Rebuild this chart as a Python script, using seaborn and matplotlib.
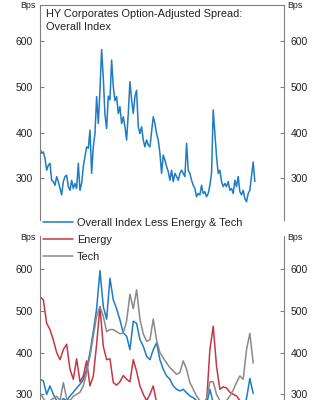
import numpy as np
import pandas as pd
import matplotlib
matplotlib.use("Agg")
import matplotlib.pyplot as plt
import seaborn as sns

# ---------------- data ----------------
overall = [366, 355, 358, 344, 318, 329, 333, 296, 293, 285, 304, 293, 278, 264, 293, 304,
           307, 282, 274, 296, 278, 289, 278, 333, 274, 289, 326, 347, 369, 366, 406, 311,
           369, 398, 479, 420, 493, 582, 520, 440, 409, 480, 472, 559, 501, 470, 479, 442,
           457, 420, 435, 413, 384, 442, 512, 472, 442, 479, 493, 413, 398, 413, 384, 369,
           384, 373, 369, 402, 435, 420, 398, 384, 355, 311, 351, 340, 326, 315, 296, 318,
           293, 311, 304, 296, 311, 318, 311, 304, 377, 318, 311, 296, 285, 278, 260, 267,
           264, 285, 267, 271, 260, 267, 285, 311, 450, 398, 347, 311, 318, 293, 282, 289,
           282, 293, 274, 278, 267, 296, 282, 304, 271, 264, 274, 256, 249, 267, 274, 304,
           336, 293]

less_energy_tech = [336, 332, 300, 320, 300, 285, 280, 290, 285, 296, 305, 315, 324, 335, 360, 400,
                    450, 505, 596, 510, 480, 578, 526, 505, 478, 447, 439, 407, 475, 470, 431, 415,
                    391, 383, 407, 423, 383, 360, 344, 336, 320, 312, 308, 312, 304, 296, 292, 285,
                    275, 270, 275, 312, 280, 275, 270, 265, 262, 270, 265, 275, 270, 265, 290, 338,
                    302]

energy = [534, 526, 470, 455, 430, 400, 383, 407, 420, 360, 336, 385, 330, 344, 380, 320,
          344, 420, 510, 415, 383, 385, 328, 322, 330, 345, 336, 330, 383, 355, 320, 300,
          285, 300, 320, 280, 270, 265, 260, 255, 262, 258, 250, 255, 260, 265, 262, 258,
          265, 270, 280, 407, 463, 367, 312, 318, 315, 305, 300, 296, 285, 280, 275, 278,
          280]

tech = [304, 290, 280, 285, 290, 295, 285, 328, 290, 285, 295, 300, 305, 320, 352, 391,
        439, 487, 510, 487, 450, 455, 455, 450, 445, 447, 475, 540, 505, 550, 480, 445,
        427, 430, 480, 430, 400, 387, 375, 364, 356, 348, 352, 380, 360, 328, 312, 296,
        285, 280, 290, 330, 330, 300, 285, 280, 285, 296, 310, 328, 344, 336, 407, 446,
        375]

series_names = ["Overall Index Less Energy & Tech", "Energy", "Tech"]
yticks = [300, 400, 500, 600]
title = "HY Corporates Option-Adjusted Spread:\nOverall Index"
unit = "Bps"

start = pd.Timestamp("2014-01-03")
dates_top = pd.date_range(start, periods=len(overall), freq="2W-FRI")
dates_bot = pd.date_range(start, periods=len(tech), freq="4W-FRI")

df_top = pd.DataFrame({"date": dates_top, "value": overall})
df_bot = pd.concat([
    pd.DataFrame({"date": dates_bot, "value": less_energy_tech, "series": series_names[0]}),
    pd.DataFrame({"date": dates_bot, "value": energy, "series": series_names[1]}),
    pd.DataFrame({"date": dates_bot, "value": tech, "series": series_names[2]}),
], ignore_index=True)

# ---------------- style ----------------
sns.set_theme(style="white")
plt.rcParams["font.family"] = ["Liberation Sans", "DejaVu Sans"]
FS = 7.5
FS_T = 7.9
TXT = "#222222"
SPINE = "#808080"
BLUE = "#1f7bc4"
RED = "#c23842"
GRAY = "#8a8a8a"
palette = {series_names[0]: BLUE, series_names[1]: RED, series_names[2]: GRAY}

W, H = 324, 400
fig = plt.figure(figsize=(W / 100, H / 100), dpi=100)

def px(x, y):
    return x / W, 1 - y / H

left, right = 40, 284
ax1 = fig.add_axes([left / W, 1 - 220 / H, (right - left) / W, (220 - 5) / H])
ax2 = fig.add_axes([left / W, 0.0, (right - left) / W, (400 - 236) / H])

sns.lineplot(data=df_top, x="date", y="value", ax=ax1, color=BLUE, linewidth=1.1, legend=False)
sns.lineplot(data=df_bot, x="date", y="value", hue="series", hue_order=series_names,
             palette=palette, ax=ax2, linewidth=1.1)

xmax = start + pd.Timedelta(weeks=293)
for ax, ylim, top_spine in [(ax1, (209, 679.5), True), (ax2, (286.4, 679), False)]:
    ax.set_xlim(start, xmax)
    ax.set_ylim(*ylim)
    ax.set_yticks(yticks)
    ax.set_xticks([])
    ax.set_xlabel("")
    ax.set_ylabel("")
    ax.spines["bottom"].set_visible(False)
    ax.spines["top"].set_visible(top_spine)
    for s in ["left", "right", "top"]:
        ax.spines[s].set_color(SPINE)
        ax.spines[s].set_linewidth(0.8)
    ax.tick_params(axis="y", which="both", left=True, right=True, labelleft=True,
                   labelright=True, direction="in", length=3, width=0.8, color=SPINE,
                   labelsize=FS, labelcolor=TXT, pad=5)
    ax.set_facecolor("none")

# unit labels
for y in (5, 237):
    fig.text(*px(36, y), unit, ha="right", va="center", fontsize=6.4, color=TXT)
    fig.text(*px(287, y), unit, ha="left", va="center", fontsize=6.4, color=TXT)

# title
fig.text(*px(46, 9), title, ha="left", va="top", fontsize=FS_T, color=TXT, linespacing=1.35)

# legend
handles, labels = ax2.get_legend_handles_labels()
ax2.legend(handles, labels, loc="upper left", bbox_to_anchor=px(43, 218),
           bbox_transform=fig.transFigure, frameon=False, fontsize=FS_T,
           handlelength=2.7, handletextpad=0.4, labelspacing=0.62, borderpad=0,
           borderaxespad=0, labelcolor=TXT)

fig.savefig("out.png", dpi=100)
